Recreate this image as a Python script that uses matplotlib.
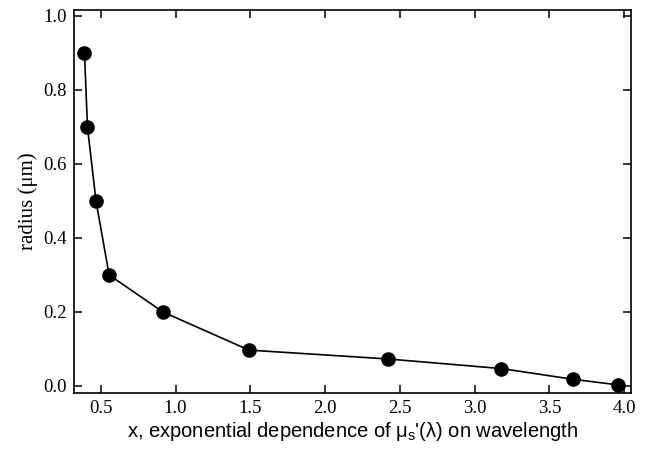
import matplotlib
matplotlib.use("Agg")
import matplotlib.pyplot as plt

# exponent x vs particle radius
x_exp = [0.39, 0.41, 0.467, 0.555, 0.915, 1.49, 2.42, 3.18, 3.66, 3.96]
radius = [0.90, 0.70, 0.50, 0.30, 0.20, 0.097, 0.073, 0.047, 0.018, 0.003]

xticks = [0.5, 1.0, 1.5, 2.0, 2.5, 3.0, 3.5, 4.0]
yticks = [0.0, 0.2, 0.4, 0.6, 0.8, 1.0]

serif = ["Liberation Serif", "DejaVu Serif"]
plt.rcParams.update({
    "mathtext.fontset": "custom",
    "mathtext.rm": "Liberation Sans",
    "mathtext.it": "Liberation Sans:italic",
})

fig = plt.figure(figsize=(6.47, 4.49), dpi=100)
ax = fig.add_axes([0.1144, 0.1247, 0.861, 0.853])

ax.plot(x_exp, radius, color="black", linewidth=1.2, marker="o",
        markersize=9.5, markerfacecolor="black", markeredgecolor="black")

ax.set_xlim(0.32, 4.047)
ax.set_ylim(-0.019, 1.016)
ax.set_xticks(xticks)
ax.set_yticks(yticks)
ax.set_xticklabels([f"{v:.1f}" for v in xticks], fontfamily=serif, fontsize=13.5)
ax.set_yticklabels([f"{v:.1f}" for v in yticks], fontfamily=serif, fontsize=13.5)
ax.tick_params(direction="in", length=6, width=1.1, top=True, right=True, pad=5)
for sp in ax.spines.values():
    sp.set_linewidth(1.2)

ax.set_xlabel("x, exponential dependence of μ$_{\\rm s}$'(λ) on wavelength",
              fontfamily="Liberation Sans", fontsize=14.5, labelpad=2)
ax.set_ylabel("radius (μm)", fontfamily=serif, fontsize=15, labelpad=4)

fig.savefig("out.png", dpi=100)
